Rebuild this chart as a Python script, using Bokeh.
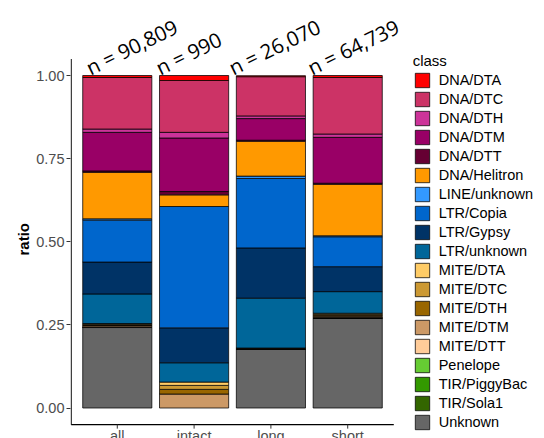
from bokeh.plotting import figure
from bokeh.models import (Range1d, FixedTicker, NumeralTickFormatter, Legend,
                          LegendItem, Label, ColumnDataSource, Title)
from bokeh.core.properties import value
from bokeh.embed import file_html
from bokeh.resources import INLINE

# ---------------- data ----------------
groups = ["all", "intact", "long", "short"]
count_labels = ["n = 90,809", "n = 990", "n = 26,070", "n = 64,739"]

classes = ["DNA/DTA", "DNA/DTC", "DNA/DTH", "DNA/DTM", "DNA/DTT", "DNA/Helitron",
           "LINE/unknown", "LTR/Copia", "LTR/Gypsy", "LTR/unknown",
           "MITE/DTA", "MITE/DTC", "MITE/DTH", "MITE/DTM", "MITE/DTT",
           "Penelope", "TIR/PiggyBac", "TIR/Sola1", "Unknown"]
class_colors = ["#FF0000", "#CC3366", "#CC3399", "#990066", "#660033", "#FF9900",
                "#3399FF", "#0066CC", "#003366", "#006699",
                "#FFCC66", "#CC9933", "#996600", "#CC9966", "#FFCC99",
                "#66CC33", "#339900", "#336600", "#666666"]

# ratios per group: all, intact, long, short
dna_dta      = [0.006, 0.015, 0.003, 0.006]
dna_dtc      = [0.155, 0.156, 0.118, 0.170]
dna_dth      = [0.010, 0.017, 0.008, 0.010]
dna_dtm      = [0.116, 0.161, 0.065, 0.138]
dna_dtt      = [0.004, 0.010, 0.003, 0.003]
dna_helitron = [0.140, 0.035, 0.105, 0.155]
line_unknown = [0.004, 0.000, 0.007, 0.003]
ltr_copia    = [0.126, 0.365, 0.209, 0.090]
ltr_gypsy    = [0.096, 0.105, 0.151, 0.075]
ltr_unknown  = [0.089, 0.058, 0.150, 0.065]
mite_dta     = [0.002, 0.010, 0.001, 0.003]
mite_dtc     = [0.002, 0.012, 0.001, 0.003]
mite_dth     = [0.002, 0.014, 0.001, 0.003]
mite_dtm     = [0.004, 0.042, 0.001, 0.004]
mite_dtt     = [0.001, 0.000, 0.000, 0.001]
penelope     = [0.0005, 0.000, 0.0002, 0.0005]
tir_piggybac = [0.0003, 0.000, 0.0001, 0.0003]
tir_sola1    = [0.0002, 0.000, 0.0001, 0.0002]
unknown      = [0.242, 0.000, 0.176, 0.270]

series = [dna_dta, dna_dtc, dna_dth, dna_dtm, dna_dtt, dna_helitron,
          line_unknown, ltr_copia, ltr_gypsy, ltr_unknown,
          mite_dta, mite_dtc, mite_dth, mite_dtm, mite_dtt,
          penelope, tir_piggybac, tir_sola1, unknown]

y_ticks = [0, 0.25, 0.5, 0.75, 1.0]

# ---------------- layout constants ----------------
W, H = 544, 438
FRAME_L, FRAME_R = 70, 544          # frame edges (px)
AX_L, AX_R = 70.7, 393.3            # ggplot panel edges (px)
Y0_PX, PX_PER_UNIT = 407.5, 332.5   # pixel row of ratio 0, px per ratio unit
n_grp = len(groups)
x_lo, x_hi = 0.4, n_grp + 0.6
sx = (AX_R - AX_L) / (x_hi - x_lo)
x_start = x_lo + (FRAME_L - AX_L) / sx
x_end = x_lo + (FRAME_R - AX_L) / sx
y_end = Y0_PX / PX_PER_UNIT
y_start = -(H - Y0_PX) / PX_PER_UNIT
axis_y = -0.05

xpos = [i + 1 for i in range(n_grp)]

p = figure(width=W, height=H, output_backend="svg", toolbar_location=None,
           x_range=Range1d(x_start, x_end), y_range=Range1d(y_start, y_end),
           x_axis_location=None, y_axis_location="left",
           min_border_left=FRAME_L, min_border_right=W - FRAME_R,
           min_border_top=0, min_border_bottom=0)
p.xgrid.visible = False
p.ygrid.visible = False
p.outline_line_color = None
p.background_fill_color = "white"
p.border_fill_color = "white"

ya = p.yaxis[0]
ya.ticker = FixedTicker(ticks=y_ticks)
ya.formatter = NumeralTickFormatter(format="0.00")
ya.minor_tick_line_color = None
ya.major_tick_in = 0
ya.major_tick_out = 4
ya.major_tick_line_color = "#333333"
ya.axis_line_color = None
ya.major_label_text_font = "Liberation Sans"
ya.major_label_text_font_size = "14.5px"
ya.major_label_text_color = "#4D4D4D"
ya.major_label_standoff = 2

p.add_layout(Title(text="ratio", align="left", offset=183,
                   text_font="Liberation Sans", text_font_size="15px",
                   text_font_style="bold", text_color="black", standoff=4), "left")

# stacked bars: last class at the bottom
bottoms = [0.0] * n_grp
renderers = {}
for cls, col, vals in reversed(list(zip(classes, class_colors, series))):
    xs, b0, t0 = [], [], []
    for i, v in enumerate(vals):
        if v > 0:
            xs.append(xpos[i])
            b0.append(bottoms[i])
            t0.append(bottoms[i] + v)
        bottoms[i] += v
    src = ColumnDataSource(dict(x=xs, bottom=b0, top=t0))
    r = p.vbar(x="x", bottom="bottom", top="top", width=0.9, source=src,
               fill_color=col, line_color="black", line_width=0.75)
    renderers[cls] = r

# axis lines (ggplot classic style)
p.segment(x0=[x_lo], x1=[x_lo], y0=[axis_y], y1=[1.05],
          line_color="black", line_width=1.1)
p.segment(x0=[x_lo], x1=[x_hi], y0=[axis_y], y1=[axis_y],
          line_color="black", line_width=1.1)
tick_len = 4 / PX_PER_UNIT
p.segment(x0=xpos, x1=xpos, y0=[axis_y] * n_grp,
          y1=[axis_y - tick_len] * n_grp, line_color="#333333", line_width=1)
p.text(x=xpos, y=[axis_y - 3.5 / PX_PER_UNIT] * n_grp, text=groups,
       text_align="center", text_baseline="top",
       text_font=value("Liberation Sans"), text_font_size="14.5px",
       text_color="#4D4D4D")

# count labels above bars
nudges = [-30, -37, -41, -39]
for i, t in enumerate(count_labels):
    p.add_layout(Label(x=xpos[i], y=1.0, x_offset=nudges[i], y_offset=7,
                       text=t, angle=26, angle_units="deg",
                       text_font="'Open Sans'", text_font_size="20.5px",
                       text_color="black", text_align="left",
                       text_baseline="alphabetic"))

legend = Legend(items=[LegendItem(label=c, renderers=[renderers[c]]) for c in classes],
                location=(342.7, 7), title="class",
                title_text_font="Liberation Sans", title_text_font_size="15px",
                title_text_font_style="normal", title_text_color="black",
                title_standoff=2,
                label_text_font="Liberation Sans", label_text_font_size="14.5px",
                label_text_color="black",
                glyph_width=18, glyph_height=18, label_height=18,
                label_standoff=8, spacing=1, padding=0, margin=0,
                border_line_color=None, background_fill_alpha=0)
p.add_layout(legend)

open("out.html", "w").write(file_html(p, INLINE))
